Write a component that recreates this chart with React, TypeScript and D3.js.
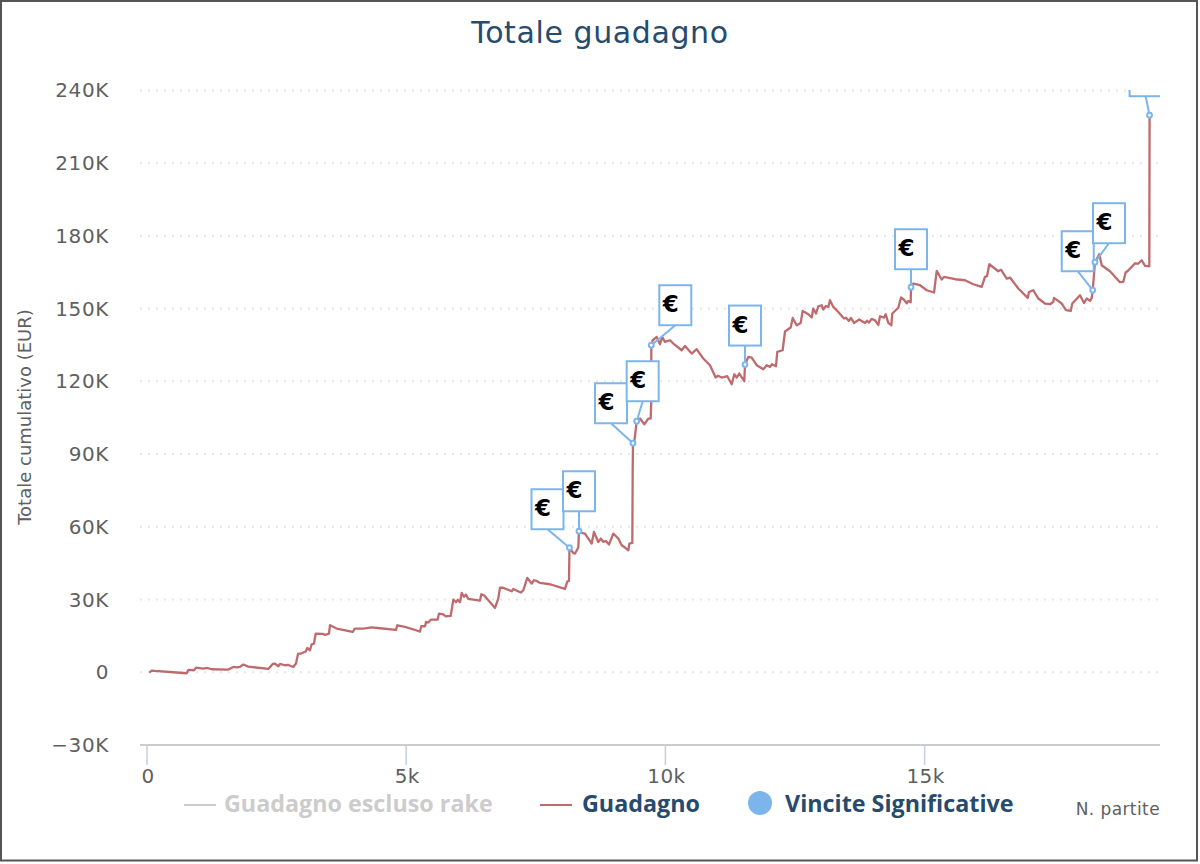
import React from "react";
import * as d3 from "d3";

const title = "Totale guadagno";
const yAxisTitle = "Totale cumulativo (EUR)";
const xAxisTitle = "N. partite";
const yTicks = [-30000, 0, 30000, 60000, 90000, 120000, 150000, 180000, 210000, 240000];
const yTickLabels = ["\u221230K", "0", "30K", "60K", "90K", "120K", "150K", "180K", "210K", "240K"];
const xTicks = [0, 5000, 10000, 15000];
const xTickLabels = ["0", "5k", "10k", "15k"];

const games = [44,91,154,507,573,766,797,907,945,1086,1152,1248,1568,1665,1730,1794,1858,1954,2340,2425,2469,2533,2566,2662,2726,2822,2874,2913,2984,3061,3092,3144,3177,3221,3254,3401,3434,3511,3530,3659,3968,4007,4172,4334,4495,4803,4828,4977,5189,5266,5291,5363,5382,5426,5478,5607,5633,5716,5762,5858,5909,5961,5993,6038,6070,6115,6153,6198,6424,6449,6501,6713,6776,6809,6867,7035,7066,7209,7259,7336,7421,7465,7517,7581,7774,8063,8107,8140,8150,8223,8256,8320,8333,8385,8449,8578,8622,8705,8758,8802,8854,8912,8995,9028,9091,9157,9221,9285,9304,9362,9369,9375,9404,9446,9510,9593,9670,9716,9728,9728,9755,9832,9896,9940,9992,10089,10153,10315,10379,10507,10604,10731,10860,10970,11015,11086,11194,11279,11329,11375,11425,11522,11535,11599,11665,11761,11889,11954,12018,12056,12133,12158,12262,12307,12417,12456,12533,12610,12648,12757,12822,12853,12905,12950,13015,13046,13098,13143,13175,13239,13335,13445,13484,13541,13580,13638,13740,13850,13889,13927,13980,14043,14107,14140,14217,14250,14300,14358,14377,14493,14545,14603,14655,14686,14732,14738,14783,14912,15041,15182,15234,15330,15375,15587,15780,15940,16102,16165,16204,16248,16422,16474,16584,16648,16808,16989,17014,17097,17194,17323,17420,17483,17496,17645,17728,17819,17849,17998,18075,18127,18191,18224,18243,18287,18370,18416,18576,18769,18832,18879,18923,18995,19059,19117,19188,19252,19335,19340];
const profit = [-120,700,540,0,-100,-410,950,825,1940,1530,1770,1240,1110,2190,2060,2270,3180,2350,1360,3420,3590,2475,3420,2890,3010,2190,3590,7550,7840,8540,10020,9075,11550,11840,15880,15800,15390,15960,19390,18030,16620,18030,18030,18560,18150,17450,19390,18690,17325,16790,18975,18975,20750,20500,21740,21740,24210,23925,23100,23220,29990,28875,29900,28875,32710,31140,32050,30240,29580,32175,31760,26520,30400,34940,34860,33410,34360,32880,33825,38900,36590,37950,37660,36840,36300,34360,37410,37660,51360,49210,48960,51440,58160,57460,57210,53090,57870,53750,55150,53750,54160,52680,57210,56510,55150,52390,51440,50325,53090,53340,83325,94460,95700,103540,104650,102300,104650,104650,112200,134890,136950,138310,135300,138310,136250,136950,135590,132825,134600,131460,133240,129400,126640,121560,122300,121560,122100,118800,122925,121560,123200,120040,126920,130060,129800,126640,124990,126640,125940,127050,126225,132120,132825,140540,142190,146150,143140,144090,149040,147680,146310,150030,147960,150975,151390,149610,151100,150690,153450,150690,148620,145900,146230,144910,146150,144090,145490,144090,145000,144250,145740,145200,143260,146850,146310,147675,144090,143140,147960,150360,154560,153660,152210,153160,152625,158810,160340,159640,157575,156630,165540,161990,163060,162110,161700,160050,158940,163060,163350,168300,165410,166030,162400,162810,158270,154400,156870,157575,154150,152090,151800,152830,154400,152090,149325,149035,152090,155510,152340,154150,153160,154400,157575,169125,172425,167890,165410,160880,161000,164880,165620,167190,168700,168500,169950,167600,167475,229760];

const winGames = [8150,8333,9375,9446,9728,11535,14738,18243,18287,19340];
const winProfit = [51360,58160,94460,103540,134890,126920,158810,157575,169125,229760];
const winLabel = "\u20ac";
const winBoxShift = [-22,0,-22,6,24,0,0,-15,14,-4];
const winBoxGap = [18.5,20,20,20,20,19,18,19,19,19];

const legendNames = ["Guadagno escluso rake", "Guadagno", "Vincite Significative"];

const FONT = "'DejaVu Sans', sans-serif";
const TITLE_C = "#274b6d";
const LINE_C = "#bf6b6e";
const WIN_C = "#7cb5ec";

export default function App() {
  const x = d3.scaleLinear().domain([0, 19541]).range([147, 1160]);
  const y = d3.scaleLinear().domain([-30000, 240000]).range([745, 90.4]);
  const path = d3.line<number>().x((_, i) => x(games[i])).y((_, i) => y(profit[i]))(profit as any) as string;
  const boxW = 32, boxH = 40;
  return (
    <svg width={1200} height={864} style={{ position: "absolute", left: 0, top: 0, background: "#fff" }} fontFamily={FONT}>
      <defs>
        <clipPath id="plot"><rect x={130} y={90} width={1030} height={655} /></clipPath>
      </defs>
      <rect x={1} y={1} width={1196} height={859.5} fill="#fff" stroke="#555" strokeWidth={2} />
      <text x={600} y={43} textAnchor="middle" fontSize={30} letterSpacing={0.6} fill={TITLE_C}>{title}</text>

      {yTicks.map((t, i) => (
        <g key={t}>
          {t !== -30000 && <line x1={140} x2={1160} y1={y(t)} y2={y(t)} stroke="#e6e6e6" strokeWidth={2} strokeDasharray="2,6" />}
          <text x={109} y={y(t) + 7} textAnchor="end" fontSize={20} letterSpacing={0.6} fill="#606060">{yTickLabels[i]}</text>
        </g>
      ))}
      <text transform={`translate(31,417) rotate(-90)`} textAnchor="middle" fontSize={18} fill="#606060">{yAxisTitle}</text>

      <line x1={140} x2={1160} y1={745} y2={745} stroke="#ccc" strokeWidth={2} />
      {xTicks.map((t, i) => (
        <g key={t}>
          <line x1={x(t)} x2={x(t)} y1={745} y2={765} stroke="#c0d0e0" strokeWidth={1.5} />
          <text x={x(t) + 1} y={783} textAnchor="middle" fontSize={20} letterSpacing={0.4} fill="#606060">{xTickLabels[i]}</text>
        </g>
      ))}

      <path d={path} fill="none" stroke={LINE_C} strokeWidth={2.3} strokeLinejoin="round" />

      <g clipPath="url(#plot)">
        {winGames.map((g, i) => {
          const px = x(g), py = y(winProfit[i]);
          const cx = px + winBoxShift[i];
          const bottom = py - winBoxGap[i];
          return (
            <g key={g}>
              <line x1={px} y1={py} x2={cx} y2={bottom} stroke={WIN_C} strokeWidth={2} />
              <rect x={cx - boxW / 2} y={bottom - boxH} width={boxW} height={boxH} fill="#fff" stroke={WIN_C} strokeWidth={2} />
              <text x={cx - boxW / 2 + 3.5} y={bottom - 13} fontSize={23} fontWeight={700} fill="#000">{winLabel}</text>
              <circle cx={px} cy={py} r={2.4} fill="#fff" stroke={WIN_C} strokeWidth={2} />
            </g>
          );
        })}
      </g>

      <g fontFamily="'Open Sans', sans-serif" fontWeight={700} fontSize={23.3}>
        <line x1={184} x2={216} y1={805} y2={805} stroke="#ccc" strokeWidth={2} />
        <text x={224} y={812} fill="#ccc">{legendNames[0]}</text>
        <line x1={540} x2={572} y1={805} y2={805} stroke={LINE_C} strokeWidth={2} />
        <text x={582} y={812} fill={TITLE_C}>{legendNames[1]}</text>
        <circle cx={760} cy={803} r={12} fill={WIN_C} />
        <text x={785} y={812} fill={TITLE_C}>{legendNames[2]}</text>
      </g>
      <text x={1160} y={815} textAnchor="end" fontSize={17} letterSpacing={0.4} fill="#606060">{xAxisTitle}</text>
    </svg>
  );
}
